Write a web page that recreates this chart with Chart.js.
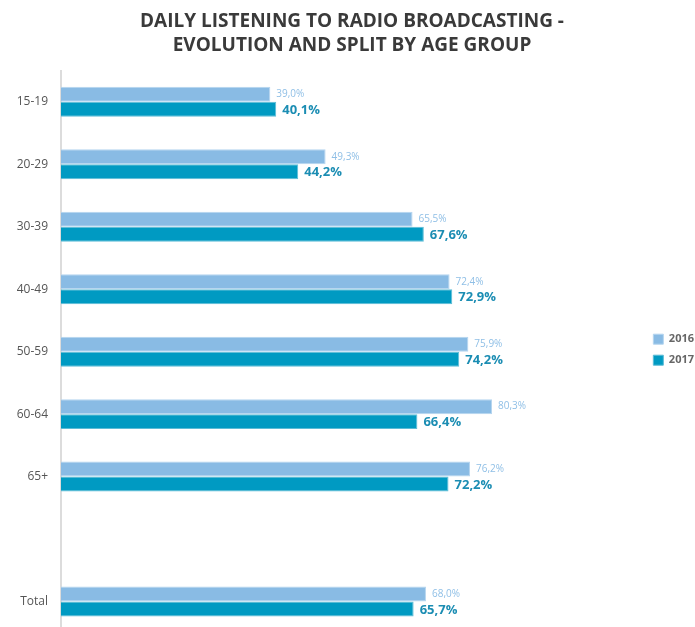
<!DOCTYPE html>
<html>
<head>
<meta charset="utf-8">
<script src="https://cdn.jsdelivr.net/npm/chart.js@4.4.0/dist/chart.umd.min.js"></script>
<style>
  html, body { margin: 0; padding: 0; background: #fff; overflow: hidden; }
  canvas { display: block; }
</style>
</head>
<body>
<!-- canvas runs a little past the bottom of the page, so the Total row sits low -->
<canvas id="radio" width="695" height="645"></canvas>
<script>
// age groups, with a blank row before the total
const ageGroups = ['15-19', '20-29', '30-39', '40-49', '50-59', '60-64', '65+', '', 'Total'];
const share2016 = [39.0, 49.3, 65.5, 72.4, 75.9, 80.3, 76.2, null, 68.0];
const share2017 = [40.1, 44.2, 67.6, 72.9, 74.2, 66.4, 72.2, null, 65.7];
const years = ['2016', '2017'];

const FONT = "'Open Sans', 'DejaVu Sans', sans-serif";

function pct(v) {
    return v.toFixed(1).replace('.', ',') + '%';
}

// value labels at the end of each bar
const valueLabels = {
    id: 'valueLabels',
    afterDatasetsDraw(chart) {
        const ctx = chart.ctx;
        chart.data.datasets.forEach((ds, i) => {
            const meta = chart.getDatasetMeta(i);
            meta.data.forEach((bar, j) => {
                const v = ds.data[j];
                if (v === null) return;
                ctx.save();
                if (i === 0) {
                    ctx.font = '10px ' + FONT;
                    ctx.fillStyle = '#8fbfe6';
                } else {
                    ctx.font = 'bold 13px ' + FONT;
                    ctx.fillStyle = '#1b8db3';
                }
                ctx.textAlign = 'left';
                ctx.textBaseline = 'middle';
                ctx.fillText(pct(v), bar.x + 6, bar.y + (i === 0 ? 0 : 1));
                ctx.restore();
            });
        });
    }
};

const ctx = document.getElementById('radio').getContext('2d');
new Chart(ctx, {
    type: 'bar',
    data: {
        labels: ageGroups,
        datasets: [{
            label: years[0],
            data: share2016,
            backgroundColor: '#89bbe4',
            borderColor: '#b5d5ef',
            borderWidth: 1,
            categoryPercentage: 0.48,
            barPercentage: 1.0
        }, {
            label: years[1],
            data: share2017,
            backgroundColor: '#009ac2',
            borderColor: '#5cbcd6',
            borderWidth: 1,
            categoryPercentage: 0.48,
            barPercentage: 1.0
        }]
    },
    options: {
        indexAxis: 'y',
        responsive: false,
        animation: false,
        layout: {
            padding: { left: 0, right: -9, top: 0, bottom: 0 }
        },
        plugins: {
            title: {
                display: true,
                text: ['DAILY LISTENING TO RADIO BROADCASTING -', 'EVOLUTION AND SPLIT BY AGE GROUP'],
                color: '#3a3a3a',
                font: { family: FONT, size: 19, weight: 'bold', lineHeight: 1.25 },
                padding: { top: 10, bottom: 13 }
            },
            legend: {
                display: true,
                position: 'right',
                // empty title only pushes the two legend items down a bit
                title: {
                    display: true,
                    text: ' ',
                    font: { family: FONT, size: 12 },
                    padding: { top: 40, bottom: 0 }
                },
                labels: {
                    boxWidth: 10,
                    boxHeight: 10,
                    padding: 10,
                    color: '#666',
                    font: { family: FONT, size: 11, weight: 'bold' }
                }
            },
            tooltip: { enabled: false }
        },
        scales: {
            x: {
                display: false,
                min: 0,
                max: 108.5
            },
            y: {
                grid: { display: false },
                border: { display: true, color: '#dcdcdc', width: 2 },
                ticks: {
                    color: '#555',
                    padding: 5,
                    font: { family: FONT, size: 12 }
                },
                afterFit(scale) {
                    scale.width = 61;
                }
            }
        }
    },
    plugins: [valueLabels]
});
</script>
</body>
</html>
